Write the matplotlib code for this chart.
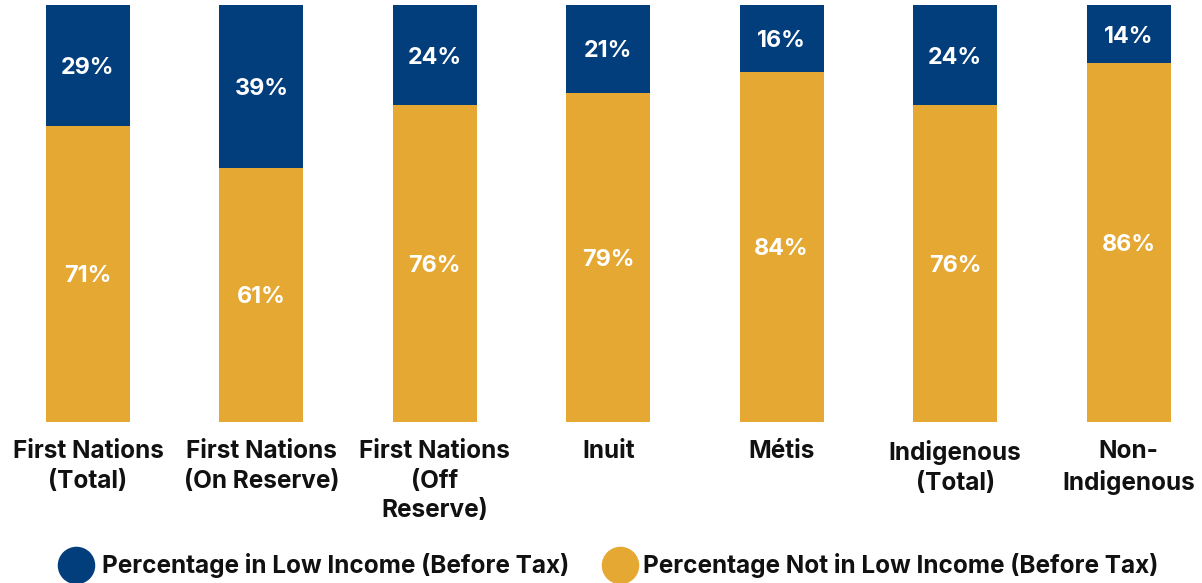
import matplotlib
matplotlib.use("Agg")
import matplotlib.pyplot as plt
from matplotlib.lines import Line2D

plt.rcParams['font.family'] = ['Inter', 'DejaVu Sans']

categories = ["First Nations\n(Total)", "First Nations\n(On Reserve)", "First Nations\n(Off\nReserve)",
              "Inuit", "Métis", "Indigenous\n(Total)", "Non-\nIndigenous"]
low_income = [29, 39, 24, 21, 16, 24, 14]
not_low_income = [71, 61, 76, 79, 84, 76, 86]
series_names = ["Percentage in Low Income (Before Tax)", "Percentage Not in Low Income (Before Tax)"]

BLUE = "#023D7C"
GOLD = "#E5A833"
TXT = "#111111"

W, H = 1202, 583
fig = plt.figure(figsize=(W / 100, H / 100), dpi=100)
ax = fig.add_axes([0, (H - 422) / H, 1, (422 - 5) / H])

x = list(range(len(categories)))
width = 84 / 173.42
ax.bar(x, not_low_income, width=width, color=GOLD)
ax.bar(x, low_income, width=width, bottom=not_low_income, color=BLUE)

for xi, a, b in zip(x, low_income, not_low_income):
    ax.text(xi, b / 2, f"{b}%", ha='center', va='center_baseline', color='white', fontsize=16.8, fontweight='bold')
    ax.text(xi, b + a / 2, f"{a}%", ha='center', va='center_baseline', color='white', fontsize=16.8, fontweight='bold')

ax.set_xlim(-88 / 173.42, (W - 88) / 173.42)
ax.set_ylim(0, 100)
ax.set_xticks(x)
ax.set_xticklabels(categories, fontsize=17.5, fontweight='bold', color=TXT, linespacing=1.36)
ax.tick_params(axis='x', length=0, pad=13)
ax.set_yticks([])
for s in ax.spines.values():
    s.set_visible(False)

# legend drawn manually in figure coordinates
legend_items = [(76, 102, BLUE, series_names[0]), (620, 643, GOLD, series_names[1])]
ly = 1 - 565 / H
for cx, tx, col, label in legend_items:
    fig.add_artist(Line2D([cx / W], [ly], marker='o', linestyle='', markersize=26,
                          markerfacecolor=col, markeredgecolor=col, transform=fig.transFigure))
    fig.text(tx / W, ly, label, ha='left', va='center', fontsize=17.5, fontweight='bold', color=TXT)

fig.savefig("out.png", dpi=100)
